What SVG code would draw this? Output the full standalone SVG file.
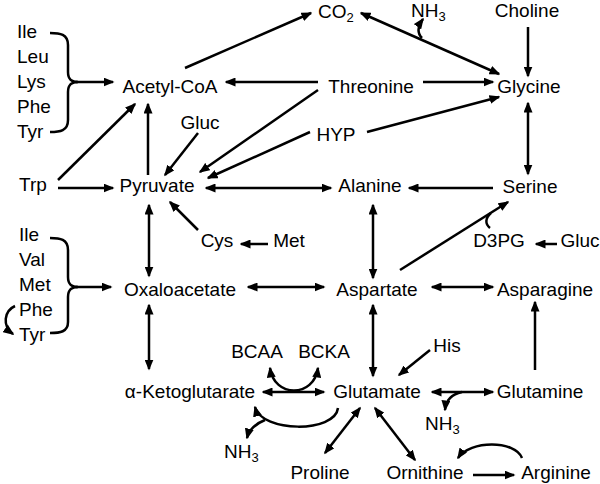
<svg xmlns="http://www.w3.org/2000/svg" width="600" height="484" viewBox="0 0 600 484">
<style>
text{font-family:"Liberation Sans",Arial,sans-serif;font-size:19px;fill:#000}
.m{text-anchor:middle}
.sub{font-size:13px}
.c{fill:none;stroke:#000;stroke-width:2.5}
.a{marker-end:url(#ah)}
.d{marker-start:url(#ah);marker-end:url(#ah)}
</style>
<defs>
<marker id="ah" viewBox="0 0 11 9" markerWidth="11" markerHeight="9" refX="9.5" refY="4.5" markerUnits="userSpaceOnUse" orient="auto-start-reverse">
<path d="M0,0 L11,4.5 L0,9 z" fill="#000"/>
</marker>
</defs>
<rect width="600" height="484" fill="#fff"/>
<g id="connectors">
<path class="c" d="M50,33 C60,33 68,34 68,45 L68,72 C68,80 72,82 78,82 M50,132 C60,132 68,131 68,120 L68,92 C68,84 72,82 78,82"/>
<path class="c a" d="M76,82 L113,82"/>
<path class="c a" d="M318,82 L226,82"/>
<path class="c a" d="M423,82 L493,82"/>
<path class="c a" d="M185,68 L311,13"/>
<path class="c d" d="M361,13 L499,74"/>
<path class="c a" d="M422,38 C417,33 418,26 423,19"/>
<path class="c a" d="M528,27 L528,76"/>
<path class="c d" d="M528,103 L528,174"/>
<path class="c a" d="M367,132 L499,97"/>
<path class="c a" d="M318,90 L200,172"/>
<path class="c a" d="M310,132 L208,178"/>
<path class="c a" d="M198,133 L165,175"/>
<path class="c a" d="M148,175 L148,104"/>
<path class="c a" d="M58,180 L135,104"/>
<path class="c a" d="M58,188 L113,188"/>
<path class="c d" d="M206,188 L331,188"/>
<path class="c a" d="M493,188 L409,188"/>
<path class="c d" d="M373,205 L373,278"/>
<path class="c a" d="M198,230 L170,202"/>
<path class="c a" d="M268,244 L241,244"/>
<path class="c a" d="M557,244 L536,244"/>
<path class="c a" d="M400,270 L508,202"/>
<path class="c" d="M491,213 C485,218 485,224 490,228"/>
<path class="c d" d="M149,205 L149,276"/>
<path class="c" d="M50,238 C60,238 68,239 68,250 L68,277 C68,285 72,287 78,287 M50,333 C60,333 68,332 68,322 L68,297 C68,289 72,287 78,287"/>
<path class="c a" d="M76,287 L111,287"/>
<path class="c a" d="M15,306 C4,311 2,326 13,334"/>
<path class="c d" d="M248,287 L324,287"/>
<path class="c d" d="M432,287 L493,287"/>
<path class="c a" d="M535,370 L535,302"/>
<path class="c d" d="M149,305 L149,369"/>
<path class="c d" d="M373,305 L373,376"/>
<path class="c d" d="M263,392 L324,392"/>
<path class="c d" d="M270,368 C274,398 314,398 318,368"/>
<path class="c a" d="M338,408 C335,433 262,433 255,407"/>
<path class="c a" d="M265,420 C255,424 249,430 247,438"/>
<path class="c a" d="M430,350 L399,375"/>
<path class="c d" d="M432,392 L493,392"/>
<path class="c a" d="M462,392 C452,394 446,400 445,410"/>
<path class="c d" d="M360,408 L325,453"/>
<path class="c d" d="M375,408 L415,460"/>
<path class="c a" d="M473,475 L514,475"/>
<path class="c a" d="M522,458 C515,440 470,440 458,458"/>
</g>
<g id="co2"><text x="318" y="18">CO<tspan class="sub" dy="4">2</tspan></text></g>
<g id="nh3-top"><text x="411" y="17">NH<tspan class="sub" dy="4">3</tspan></text></g>
<g id="choline"><text class="m" x="527" y="17">Choline</text></g>
<g id="aa-group-1">
<text x="17" y="38">Ile</text>
<text x="17" y="63">Leu</text>
<text x="17" y="88">Lys</text>
<text x="17" y="113">Phe</text>
<text x="17" y="138">Tyr</text>
</g>
<g id="acetyl-coa"><text class="m" x="170" y="93">Acetyl-CoA</text></g>
<g id="threonine"><text class="m" x="371" y="93">Threonine</text></g>
<g id="glycine"><text class="m" x="529" y="93">Glycine</text></g>
<g id="gluc-1"><text class="m" x="200" y="129">Gluc</text></g>
<g id="hyp"><text class="m" x="336" y="141">HYP</text></g>
<g id="trp"><text x="19" y="191">Trp</text></g>
<g id="pyruvate"><text class="m" x="157" y="192">Pyruvate</text></g>
<g id="alanine"><text class="m" x="370" y="192">Alanine</text></g>
<g id="serine"><text class="m" x="530" y="193">Serine</text></g>
<g id="cys"><text class="m" x="217" y="247">Cys</text></g>
<g id="met"><text class="m" x="289" y="247">Met</text></g>
<g id="d3pg"><text class="m" x="499" y="247">D3PG</text></g>
<g id="gluc-2"><text class="m" x="580" y="247">Gluc</text></g>
<g id="aa-group-2">
<text x="19" y="241">Ile</text>
<text x="19" y="266">Val</text>
<text x="19" y="291">Met</text>
<text x="19" y="316">Phe</text>
<text x="19" y="341">Tyr</text>
</g>
<g id="oxaloacetate"><text class="m" x="180" y="296">Oxaloacetate</text></g>
<g id="aspartate"><text class="m" x="377" y="296">Aspartate</text></g>
<g id="asparagine"><text class="m" x="545" y="296">Asparagine</text></g>
<g id="bcaa"><text class="m" x="257" y="358">BCAA</text></g>
<g id="bcka"><text class="m" x="324" y="358">BCKA</text></g>
<g id="his"><text class="m" x="447" y="352">His</text></g>
<g id="a-ketoglutarate"><text class="m" x="190" y="398">α-Ketoglutarate</text></g>
<g id="glutamate"><text class="m" x="377" y="398">Glutamate</text></g>
<g id="glutamine"><text class="m" x="540" y="398">Glutamine</text></g>
<g id="nh3-right"><text x="425" y="430">NH<tspan class="sub" dy="4">3</tspan></text></g>
<g id="nh3-left"><text x="224" y="458">NH<tspan class="sub" dy="4">3</tspan></text></g>
<g id="proline"><text class="m" x="320" y="479">Proline</text></g>
<g id="ornithine"><text class="m" x="425" y="479">Ornithine</text></g>
<g id="arginine"><text class="m" x="556" y="479">Arginine</text></g>
</svg>
